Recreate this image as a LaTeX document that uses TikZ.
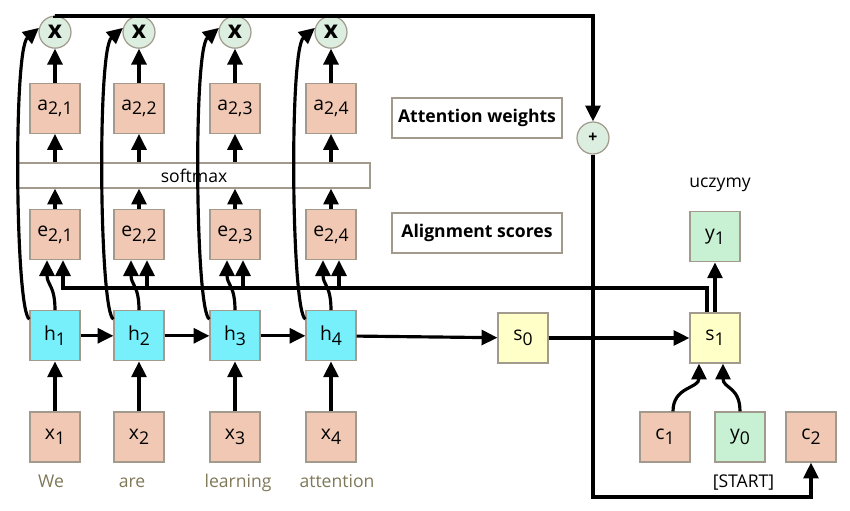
\documentclass[tikz,border=0pt]{standalone}
\usepackage{fontspec}
\setmainfont{Open Sans}
\usetikzlibrary{shapes,arrows.meta,positioning,calc}
\usepackage{xcolor}

\definecolor{inpeach}{HTML}{F0C8B4}
\definecolor{hidcyan}{HTML}{78F0FC}
\definecolor{decyellow}{HTML}{FFFFC8}
\definecolor{outgreen}{HTML}{C8F0D2}
\definecolor{opgreen}{HTML}{DCEEDF}
\definecolor{edgegray}{HTML}{A39A8E}
\definecolor{wordolive}{HTML}{7E7858}

\newcommand{\idx}[2]{#1\raisebox{-2.8pt}{\fontsize{10}{12}\selectfont #2}}

\begin{document}
\begin{tikzpicture}[
    x=0.02cm, y=-0.02cm,
    node distance=1cm,
    box/.style={rectangle, draw=edgegray, line width=0.7pt, minimum size=1cm, inner sep=0pt, font=\fontsize{11}{13}\selectfont},
    op/.style={circle, draw=edgegray, line width=0.7pt, fill=opgreen, minimum size=0.64cm, inner sep=0pt, font=\bfseries\fontsize{14}{16}\selectfont},
    note/.style={rectangle, draw=edgegray, line width=0.7pt, minimum width=3.4cm, minimum height=0.8cm, inner sep=0pt, font=\bfseries\fontsize{10}{12}\selectfont},
    word/.style={anchor=base, text=wordolive, font=\fontsize{10}{12}\selectfont},
    arrow/.style={-{Triangle[length=9pt,width=8.5pt]}, line width=1.8pt},
    line/.style={line width=1.8pt}
]
    \useasboundingbox (0,0) rectangle (850,511);

    % encoder
    \node[box, fill=inpeach] (x1) at (55,437) {\idx{x}{1}};
    \node[box, fill=inpeach] (x2) at (139,437) {\idx{x}{2}};
    \node[box, fill=inpeach] (x3) at (235,437) {\idx{x}{3}};
    \node[box, fill=inpeach] (x4) at (331,437) {\idx{x}{4}};
    \node[box, fill=hidcyan, above=of x1] (h1) {\idx{h}{1}};
    \node[box, fill=hidcyan, above=of x2] (h2) {\idx{h}{2}};
    \node[box, fill=hidcyan, above=of x3] (h3) {\idx{h}{3}};
    \node[box, fill=hidcyan, above=of x4] (h4) {\idx{h}{4}};
    \node[box, fill=inpeach, above=of h1] (e1) {\idx{e}{2,1}};
    \node[box, fill=inpeach, above=of h2] (e2) {\idx{e}{2,2}};
    \node[box, fill=inpeach, above=of h3] (e3) {\idx{e}{2,3}};
    \node[box, fill=inpeach, above=of h4] (e4) {\idx{e}{2,4}};
    \node[box, fill=inpeach, above=1.5cm of e1] (a1) {\idx{a}{2,1}};
    \node[box, fill=inpeach, above=1.5cm of e2] (a2) {\idx{a}{2,2}};
    \node[box, fill=inpeach, above=1.5cm of e3] (a3) {\idx{a}{2,3}};
    \node[box, fill=inpeach, above=1.5cm of e4] (a4) {\idx{a}{2,4}};
    \node[op, above=0.68cm of a1] (m1) {x};
    \node[op, above=0.68cm of a2] (m2) {x};
    \node[op, above=0.68cm of a3] (m3) {x};
    \node[op, above=0.68cm of a4] (m4) {x};
    \node[rectangle, draw=edgegray, line width=0.7pt, minimum width=7.04cm, minimum height=0.5cm, inner sep=0pt, font=\fontsize{10}{12}\selectfont] (soft) at (194,175.5) {softmax};

    \node[word] (w1) at (51,487) {We};
    \node[word] (w2) at (132,487) {are};
    \node[word] (w3) at (238,487) {learning};
    \node[word] (w4) at (337,487) {attention};

    \node[note] (attn) at (477,118) {Attention weights};
    \node[note] (align) at (477,233) {Alignment scores};

    % decoder
    \node[box, fill=decyellow] (s0) at (523,338) {\idx{s}{0}};
    \node[box, fill=decyellow] (s1) at (715,338) {\idx{s}{1}};
    \node[box, fill=outgreen, above=of s1] (y1) {\idx{y}{1}};
    \node[box, fill=inpeach] (c1) at (665,437) {\idx{c}{1}};
    \node[box, fill=outgreen] (y0) at (740,437) {\idx{y}{0}};
    \node[box, fill=inpeach] (c2) at (811,437) {\idx{c}{2}};
    \node[op, font=\bfseries\fontsize{9}{10}\selectfont] (plus) at (593,138) {+};
    \node[anchor=base, font=\fontsize{10}{12}\selectfont] (word) at (720,187) {uczymy};
    \node[anchor=base, font=\fontsize{10}{12}\selectfont] (start) at (743.5,487) {[START]};

    \coordinate (top) at (593,16);
    \coordinate (bot) at (593,497);
    \coordinate (bus) at (0,288);

    \draw[arrow] (x1) -- (h1);
    \draw[arrow] (x2) -- (h2);
    \draw[arrow] (x3) -- (h3);
    \draw[arrow] (x4) -- (h4);
    \draw[arrow] (h1) -- (h2);
    \draw[arrow] (h2) -- (h3);
    \draw[arrow] (h3) -- (h4);
    \draw[arrow] (h4) -- (s0);
    \draw[arrow] (s0) -- (s1);

    % hidden states into scores
    \draw[arrow] (h1.north) .. controls +(0,0.5cm) and +(0,-0.5cm) .. ([xshift=-0.16cm]e1.south);
    \draw[arrow] (h2.north) .. controls +(0,0.5cm) and +(0,-0.5cm) .. ([xshift=-0.16cm]e2.south);
    \draw[arrow] (h3.north) .. controls +(0,0.5cm) and +(0,-0.5cm) .. ([xshift=-0.16cm]e3.south);
    \draw[arrow] (h4.north) .. controls +(0,0.5cm) and +(0,-0.5cm) .. ([xshift=-0.16cm]e4.south);

    % scores -> softmax -> weights -> products
    \draw[arrow] (e1) -- (e1 |- soft.south);
    \draw[arrow] (e2) -- (e2 |- soft.south);
    \draw[arrow] (e3) -- (e3 |- soft.south);
    \draw[arrow] (e4) -- (e4 |- soft.south);
    \draw[arrow] (a1 |- soft.north) -- (a1);
    \draw[arrow] (a2 |- soft.north) -- (a2);
    \draw[arrow] (a3 |- soft.north) -- (a3);
    \draw[arrow] (a4 |- soft.north) -- (a4);
    \draw[arrow] (a1) -- (m1);
    \draw[arrow] (a2) -- (m2);
    \draw[arrow] (a3) -- (m3);
    \draw[arrow] (a4) -- (m4);

    % hidden states into products
    \draw[arrow] ([yshift=-0.18cm]h1.north west) .. controls +(-0.28cm,0.14cm) and +(-0.52cm,-0.44cm) .. (m1.165);
    \draw[arrow] ([yshift=-0.18cm]h2.north west) .. controls +(-0.28cm,0.14cm) and +(-0.52cm,-0.44cm) .. (m2.165);
    \draw[arrow] ([yshift=-0.18cm]h3.north west) .. controls +(-0.28cm,0.14cm) and +(-0.52cm,-0.44cm) .. (m3.165);
    \draw[arrow] ([yshift=-0.18cm]h4.north west) .. controls +(-0.28cm,0.14cm) and +(-0.52cm,-0.44cm) .. (m4.165);

    % context vector
    \draw[arrow] (m1.north) |- (top) -- (plus);
    \draw[line] (m2.north) -- (m2.north |- top);
    \draw[line] (m3.north) -- (m3.north |- top);
    \draw[line] (m4.north) -- (m4.north |- top);
    \draw[arrow] (plus) -- (bot) -| (c2);

    % decoder state into scores
    \draw[arrow] ([xshift=-0.16cm]s1.north) |- ([xshift=0.16cm]e1.south |- bus) -- ([xshift=0.16cm]e1.south);
    \draw[arrow] ([xshift=0.16cm]e2.south |- bus) -- ([xshift=0.16cm]e2.south);
    \draw[arrow] ([xshift=0.16cm]e3.south |- bus) -- ([xshift=0.16cm]e3.south);
    \draw[arrow] ([xshift=0.16cm]e4.south |- bus) -- ([xshift=0.16cm]e4.south);

    \draw[arrow] (s1) -- (y1);
    \draw[arrow] ([xshift=0.16cm]c1.north) .. controls +(0,0.5cm) and +(0,-0.5cm) .. ([xshift=-0.32cm]s1.south);
    \draw[arrow] (y0.north) .. controls +(0,0.5cm) and +(0,-0.5cm) .. ([xshift=0.16cm]s1.south);
\end{tikzpicture}
\end{document}
